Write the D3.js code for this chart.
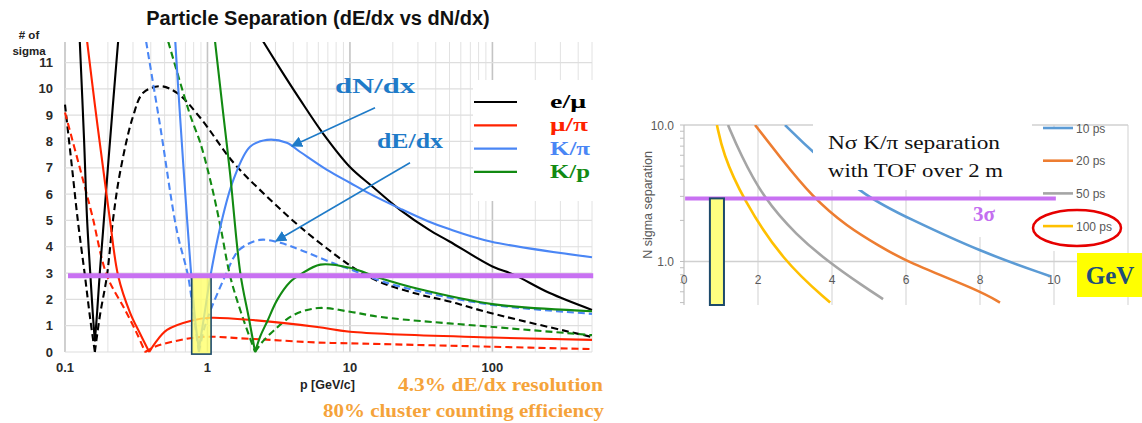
<!DOCTYPE html>
<html><head><meta charset="utf-8">
<script src="https://cdn.jsdelivr.net/npm/d3@7"></script>
<style>body{margin:0;background:#fff}svg{display:block}</style>
</head><body>
<svg id="c" width="1142" height="423"></svg>
<script>
// ---------- LEFT CHART DATA : [p (GeV/c), number of sigma] ----------
const pTickLabels = [0.1, 1, 10, 100];
const sigmaTicks = [0,1,2,3,4,5,6,7,8,9,10,11];
const threeSigma = 2.9;
const yellowBandP = [0.775, 1.06];

const emuN = [[0.127,11.8],[0.136,8.1],[0.143,5.0],[0.152,2.6],[0.157,1.4],[0.162,0.4],[0.168,1.5],[0.176,3.1],[0.185,4.6],[0.2,7.0],[0.217,9.4],[0.236,11.8],null,
  [2.46,11.8],[3.24,10.76],[4.48,9.58],[6.5,8.29],[10,7.03],[14.5,6.27],[22.5,5.4],[36,4.64],[50,4.2],[100,3.25],[140,2.95],[250,2.25],[500,1.6]];
const emuE = [[0.1,9.4],[0.111,7.2],[0.123,5.0],[0.138,2.9],[0.15,1.3],[0.162,0],[0.176,1.4],[0.197,2.9],[0.217,5.0],[0.243,6.8],[0.3,8.95],[0.354,9.85],[0.465,10.1],[0.61,9.85],[0.89,8.9],[1.52,7.2],[2.62,5.9],[4.48,4.75],[7.6,3.76],[11.3,3.1],[16.4,2.65],[30,2.2],[50,1.92],[97,1.48],[500,0.57]];
const muPiN = [[0.143,11.8],[0.162,9.4],[0.185,7.0],[0.207,5.0],[0.236,2.9],[0.286,1.5],[0.336,0.7],[0.39,0],[0.43,0.35],[0.52,0.84],[0.78,1.2],[1.05,1.3],[2.2,1.2],[5.9,0.95],[10,0.77],[100,0.55],[500,0.46]];
const muPiE = [[0.1,9.1],[0.127,7.0],[0.155,5.2],[0.197,2.9],[0.264,1.6],[0.32,0.7],[0.365,0],[0.42,0.18],[0.52,0.34],[0.89,0.57],[2,0.5],[5.9,0.36],[10,0.33],[100,0.2],[500,0.11]];
const kPiN = [[0.594,11.8],[0.643,8.9],[0.72,5.0],[0.77,2.9],[0.82,1.2],[0.87,0.1],[0.95,1.4],[1.05,2.9],[1.23,4.75],[1.52,6.54],[1.99,7.8],[2.62,8.06],[3.6,7.95],[4.48,7.6],[6.9,6.92],[10,6.43],[14.5,5.95],[22.5,5.45],[36,4.95],[48,4.7],[97,4.2],[500,3.6]];
const kPiE = [[0.371,11.8],[0.465,8.6],[0.61,4.6],[0.73,2.9],[0.8,1.4],[0.87,0],[0.95,0.9],[1.08,1.75],[1.37,3.04],[1.52,3.57],[1.7,3.92],[2.33,4.26],[3.24,4.15],[4.48,3.88],[7.6,3.38],[11.8,3.0],[16.4,2.7],[30,2.32],[97,1.8],[500,1.45]];
const kpN = [[1.13,11.8],[1.3,8.9],[1.44,6.8],[1.7,3.0],[1.95,1.3],[2.16,0],[2.35,0.6],[2.62,1.15],[3.1,2.0],[3.8,2.66],[4.5,2.95],[6.2,3.32],[10,3.2],[16.4,2.8],[30,2.4],[100,1.82],[500,1.55]];
const kpE = [[0.53,11.8],[0.756,9.0],[0.89,7.95],[1.05,6.5],[1.23,4.8],[1.44,2.9],[1.72,1.5],[2.16,0],[2.4,0.35],[2.9,0.8],[4.0,1.4],[6.0,1.67],[10,1.53],[16.4,1.33],[97,0.96],[500,0.64]];

const legendNames = ["e/μ","μ/π","K/π","K/p"];
const legendColors = ["#000000","#ff2200","#4a86f5","#128a12"];

// ---------- RIGHT CHART DATA : [p (GeV), N sigma] ----------
const tofXTicks = [0,2,4,6,8,10];
const tofYTicks = [1,10];
const tofMinorTicks = [0.5,0.6,0.7,0.8,0.9,2,3,4,5,6,7,8,9];
const tofNames = ["10 ps","20 ps","50 ps","100 ps"];
const tofColors = ["#5b9bd5","#ed7d31","#a5a5a5","#ffc000"];
const tof10 = [[2.73,10],[3.49,6.25],[4.95,2.93],[6.03,2.1],[8,1.18],[9.9,0.78]];
const tof20 = [[1.92,10],[2.59,5.84],[3.46,2.98],[4.41,1.8],[5.3,1.29],[6.0,1.0],[8.0,0.61],[8.54,0.5]];
const tof50 = [[1.19,10],[1.51,6.25],[2.14,2.93],[3.05,1.55],[3.89,1.0],[4.84,0.66],[5.38,0.53]];
const tof100 = [[0.89,10],[1.05,6.25],[1.57,2.93],[2.68,1.0],[3.95,0.5]];
const tofBandP = [0.7, 1.08];

// split a series at its sharp zero-crossing minima (V tips), so each arm is drawn on its own
function splitAtMinima(arr) {
  const out = [];
  arr.forEach((d, i) => {
    out.push(d);
    const a = arr[i - 1], b = arr[i + 1];
    if (d && a && b && d[1] <= 0.5 && d[1] < a[1] && d[1] < b[1]) { out.push(null); out.push(d); }
  });
  return out;
}

// ================= LEFT CHART =================
const svg = d3.select('#c');
const x = d3.scaleLog().domain([0.1, 500]).range([65, 592]);
const y = d3.scaleLinear().domain([0, 11.78]).range([352, 42]);
const L = svg.append('g');
const sans = 'Liberation Sans, Arial, sans-serif';
const serif = 'Liberation Serif, Times New Roman, serif';

const isDecade = d => Math.abs(Math.log10(d) - Math.round(Math.log10(d))) < 1e-6;
L.append('g').selectAll('line').data(x.ticks()).join('line')
  .attr('x1', d => x(d)).attr('x2', d => x(d)).attr('y1', y.range()[1]).attr('y2', y(0))
  .attr('stroke', d => isDecade(d) ? '#c4c4c4' : '#e2e2e2')
  .attr('stroke-width', d => isDecade(d) ? 1.6 : 1);
L.append('g').selectAll('line').data(sigmaTicks).join('line')
  .attr('x1', x.range()[0]).attr('x2', x.range()[1]).attr('y1', d => y(d)).attr('y2', d => y(d))
  .attr('stroke', '#dedede').attr('stroke-width', 1.2);

L.append('g').selectAll('text').data(sigmaTicks).join('text')
  .attr('x', 53).attr('y', d => y(d) + 4.5).attr('text-anchor', 'end')
  .attr('font-family', sans).attr('font-weight', 'bold')
  .attr('font-size', 13).attr('fill', '#2a2a2a').text(d => d);
L.append('g').selectAll('text').data(pTickLabels).join('text')
  .attr('x', d => x(d)).attr('y', 372).attr('text-anchor', 'middle')
  .attr('font-family', sans).attr('font-weight', 'bold')
  .attr('font-size', 13).attr('fill', '#2a2a2a').text(d => d);

svg.append('clipPath').attr('id', 'clipL').append('rect')
  .attr('x', 63).attr('y', 42).attr('width', 532).attr('height', 314);

const lineL = d3.line().defined(d => d !== null).x(d => x(d[0])).y(d => y(d[1])).curve(d3.curveCatmullRom.alpha(0.5));
const seriesL = [
  {d: emuE, c: legendColors[0], dash: true}, {d: muPiE, c: legendColors[1], dash: true},
  {d: kPiE, c: legendColors[2], dash: true}, {d: kpE, c: legendColors[3], dash: true},
  {d: emuN, c: legendColors[0], dash: false}, {d: muPiN, c: legendColors[1], dash: false},
  {d: kPiN, c: legendColors[2], dash: false}, {d: kpN, c: legendColors[3], dash: false}
];
L.append('g').attr('clip-path', 'url(#clipL)').selectAll('path').data(seriesL).join('path')
  .attr('d', s => lineL(splitAtMinima(s.d))).attr('fill', 'none').attr('stroke', s => s.c)
  .attr('stroke-width', 2.1).attr('stroke-dasharray', s => s.dash ? '7,4' : null);

L.append('rect').attr('x', x(yellowBandP[0])).attr('y', y(threeSigma))
  .attr('width', x(yellowBandP[1]) - x(yellowBandP[0])).attr('height', y(-0.08) - y(threeSigma))
  .attr('fill', '#ffff66').attr('fill-opacity', 0.78).attr('stroke', '#1d4a6b').attr('stroke-width', 1.6);
L.append('line').attr('x1', x(0.105)).attr('x2', x(510)).attr('y1', y(threeSigma)).attr('y2', y(threeSigma))
  .attr('stroke', '#c871f2').attr('stroke-width', 5);

// legend
const lg = L.append('g');
lg.append('rect').attr('x', 473).attr('y', 80).attr('width', 121).attr('height', 121).attr('fill', '#fff');
const legW = [36, 38, 40, 40];
legendNames.forEach((n, i) => {
  const yy = 102 + i * 23.3;
  lg.append('line').attr('x1', 474).attr('x2', 517).attr('y1', yy).attr('y2', yy)
    .attr('stroke', legendColors[i]).attr('stroke-width', 2.2);
  lg.append('text').attr('x', 550).attr('y', yy + 6).attr('font-family', serif)
    .attr('font-weight', 'bold').attr('font-size', 19).attr('fill', legendColors[i])
    .attr('textLength', legW[i]).attr('lengthAdjust', 'spacingAndGlyphs').text(n);
});

// title & axis captions
svg.append('text').attr('x', 318).attr('y', 25).attr('text-anchor', 'middle')
  .attr('font-family', sans).attr('font-weight', 'bold').attr('font-size', 20)
  .attr('fill', '#111').text('Particle Separation (dE/dx vs dN/dx)');
svg.append('text').attr('x', 29).attr('y', 39).attr('text-anchor', 'middle')
  .attr('font-family', sans).attr('font-weight', 'bold').attr('font-size', 11.5)
  .attr('fill', '#222').text('# of');
svg.append('text').attr('x', 29).attr('y', 55).attr('text-anchor', 'middle')
  .attr('font-family', sans).attr('font-weight', 'bold').attr('font-size', 11.5)
  .attr('fill', '#222').text('sigma');
svg.append('text').attr('x', 300).attr('y', 389)
  .attr('font-family', sans).attr('font-weight', 'bold').attr('font-size', 12.5)
  .attr('fill', '#222').text('p [GeV/c]');

// annotations
const blueAnn = '#1f7bc8';
svg.append('defs').append('marker').attr('id', 'ah').attr('viewBox', '0 0 10 10').attr('refX', 9).attr('refY', 5)
  .attr('markerWidth', 7).attr('markerHeight', 7).attr('orient', 'auto')
  .append('path').attr('d', 'M0,0 L10,5 L0,10 z').attr('fill', blueAnn);
const arrows = [
  {from: [15.0, 9.28], to: [3.92, 7.83]},
  {from: [26.4, 7.19], to: [3.03, 4.22]}
];
L.selectAll('line.arr').data(arrows).join('line').attr('class', 'arr')
  .attr('x1', a => x(a.from[0])).attr('y1', a => y(a.from[1]))
  .attr('x2', a => x(a.to[0])).attr('y2', a => y(a.to[1]))
  .attr('stroke', blueAnn).attr('stroke-width', 1.6).attr('marker-end', 'url(#ah)');
svg.append('text').attr('x', 335).attr('y', 93).attr('font-family', serif)
  .attr('font-weight', 'bold').attr('font-size', 22).attr('fill', blueAnn)
  .attr('textLength', 80).attr('lengthAdjust', 'spacingAndGlyphs').text('dN/dx');
svg.append('text').attr('x', 377).attr('y', 148).attr('font-family', serif)
  .attr('font-weight', 'bold').attr('font-size', 20).attr('fill', blueAnn)
  .attr('textLength', 66).attr('lengthAdjust', 'spacingAndGlyphs').text('dE/dx');
svg.append('text').attr('x', 398).attr('y', 391).attr('font-family', serif)
  .attr('font-weight', 'bold').attr('font-size', 18.5).attr('fill', '#f5a33a')
  .attr('textLength', 205).attr('lengthAdjust', 'spacingAndGlyphs').text('4.3% dE/dx resolution');
svg.append('text').attr('x', 323).attr('y', 417).attr('font-family', serif)
  .attr('font-weight', 'bold').attr('font-size', 18.5).attr('fill', '#f5a33a')
  .attr('textLength', 281).attr('lengthAdjust', 'spacingAndGlyphs').text('80% cluster counting efficiency');

// ================= RIGHT CHART =================
const xr = d3.scaleLinear().domain([0, 12]).range([684, 1128]);
const yr = d3.scaleLog().domain([0.48, 10]).range([305, 125]);
const R = svg.append('g');

R.append('g').selectAll('line').data(d3.range(2, 13, 2)).join('line')
  .attr('x1', d => xr(d)).attr('x2', d => xr(d)).attr('y1', yr(10)).attr('y2', 305)
  .attr('stroke', '#d9d9d9').attr('stroke-width', 1.2);
R.append('g').selectAll('line').data(tofYTicks).join('line')
  .attr('x1', xr(0)).attr('x2', xr(12)).attr('y1', d => yr(d)).attr('y2', d => yr(d))
  .attr('stroke', '#d0d0d0').attr('stroke-width', 1.3);
R.append('line').attr('x1', xr(0)).attr('x2', xr(0)).attr('y1', yr(10)).attr('y2', 305)
  .attr('stroke', '#bfbfbf').attr('stroke-width', 1.2);
R.append('g').selectAll('line').data(tofMinorTicks.concat(tofYTicks)).join('line')
  .attr('x1', xr(0) - 4).attr('x2', xr(0)).attr('y1', d => yr(d)).attr('y2', d => yr(d))
  .attr('stroke', '#bfbfbf');
R.append('g').selectAll('text').data(tofYTicks).join('text')
  .attr('x', 674).attr('y', d => yr(d) + 4.5).attr('text-anchor', 'end')
  .attr('font-family', sans).attr('font-size', 12).attr('fill', '#595959').text(d => d.toFixed(1));
R.append('g').selectAll('text').data(tofXTicks).join('text')
  .attr('x', d => xr(d)).attr('y', 284).attr('text-anchor', 'middle')
  .attr('font-family', sans).attr('font-size', 12).attr('fill', '#595959').text(d => d);
R.append('text').attr('transform', 'translate(652,205) rotate(-90)').attr('text-anchor', 'middle')
  .attr('font-family', sans).attr('font-size', 12.5).attr('fill', '#595959').text('N sigma separation');

svg.append('clipPath').attr('id', 'clipR').append('rect')
  .attr('x', 684).attr('y', 125).attr('width', 444).attr('height', 180);
const lineR = d3.line().x(d => xr(d[0])).y(d => yr(d[1])).curve(d3.curveBasis);
R.append('g').attr('clip-path', 'url(#clipR)').selectAll('path')
  .data([tof10, tof20, tof50, tof100]).join('path')
  .attr('d', lineR).attr('fill', 'none').attr('stroke', (d, i) => tofColors[i]).attr('stroke-width', 2.6);

// white boxes (text box, 3σ label, legend)
R.append('rect').attr('x', 813).attr('y', 121).attr('width', 219).attr('height', 69).attr('fill', '#fff');
R.append('rect').attr('x', 955).attr('y', 201).attr('width', 50).attr('height', 36).attr('fill', '#fff');
R.append('rect').attr('x', 1034).attr('y', 127).attr('width', 92).attr('height', 124).attr('fill', '#fff');

tofNames.forEach((n, i) => {
  const yy = 128 + i * 32.7;
  R.append('line').attr('x1', 1043).attr('x2', 1073).attr('y1', yy).attr('y2', yy)
    .attr('stroke', tofColors[i]).attr('stroke-width', 2.6);
  R.append('text').attr('x', 1076).attr('y', yy + 4.5).attr('font-family', sans).attr('font-size', 12)
    .attr('fill', '#595959').text(n);
});
R.append('ellipse').attr('cx', 1077).attr('cy', 228).attr('rx', 44).attr('ry', 18)
  .attr('fill', 'none').attr('stroke', '#e60000').attr('stroke-width', 2.5);

R.append('line').attr('x1', xr(0.03)).attr('x2', xr(10.05)).attr('y1', yr(threeSigma)).attr('y2', yr(threeSigma))
  .attr('stroke', '#c871f2').attr('stroke-width', 4);
R.append('rect').attr('x', xr(tofBandP[0])).attr('y', yr(threeSigma))
  .attr('width', xr(tofBandP[1]) - xr(tofBandP[0])).attr('height', 305 - yr(threeSigma))
  .attr('fill', '#ffff80').attr('stroke', '#1d4a6b').attr('stroke-width', 2);

R.append('text').attr('x', 828).attr('y', 149).attr('font-family', serif)
  .attr('font-size', 19).attr('fill', '#111').attr('textLength', 172).attr('lengthAdjust', 'spacingAndGlyphs')
  .text('Nσ K/π separation');
R.append('text').attr('x', 828).attr('y', 177).attr('font-family', serif)
  .attr('font-size', 19).attr('fill', '#111').attr('textLength', 175).attr('lengthAdjust', 'spacingAndGlyphs')
  .text('with TOF over 2 m');
R.append('text').attr('x', 973).attr('y', 221).attr('font-family', serif)
  .attr('font-weight', 'bold').attr('font-size', 21).attr('fill', '#c36ef0').text('3σ');
R.append('rect').attr('x', 1077).attr('y', 253).attr('width', 65).attr('height', 44).attr('fill', '#ffff00');
R.append('text').attr('x', 1110).attr('y', 284).attr('text-anchor', 'middle').attr('font-family', serif)
  .attr('font-weight', 'bold').attr('font-size', 25).attr('fill', '#1f4e79').text('GeV');
</script>
</body></html>
